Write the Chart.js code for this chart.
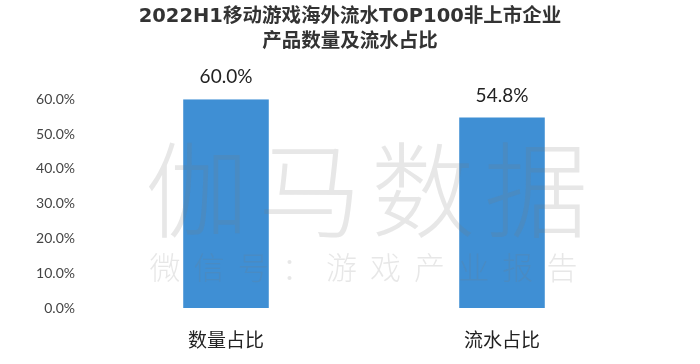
<!DOCTYPE html>
<html>
<head>
<meta charset="utf-8">
<script src="https://cdn.jsdelivr.net/npm/chart.js@4"></script>
<style>
  html, body { margin: 0; padding: 0; background: #fff; }
  #wrap { width: 700px; height: 364px; }
</style>
</head>
<body>
<div id="wrap"><canvas id="chart" width="700" height="364"></canvas></div>
<script>
// Chart data
const titleLines = ['2022H1移动游戏海外流水TOP100非上市企业', '产品数量及流水占比'];
const categories = ['数量占比', '流水占比'];
const shareValues = [60.0, 54.8];
const yTicks = [0, 10, 20, 30, 40, 50, 60];

const FONT = "'Lato', 'Noto Sans CJK SC', sans-serif";
const CJK = "'Noto Sans CJK SC', sans-serif";

// Watermark drawn on top of the bars
const watermark = {
    id: 'watermark',
    afterDatasetsDraw(chart) {
        const ctx = chart.ctx;
        ctx.save();
        ctx.fillStyle = 'rgba(120,120,120,0.18)';
        ctx.textAlign = 'center';
        ctx.textBaseline = 'middle';
        ctx.font = '300 104px ' + CJK;
        '伽马数据'.split('').forEach((ch, i) => {
            ctx.fillText(ch, 197 + i * 113, 190);
        });
        ctx.font = '300 31px ' + CJK;
        '微信号：游戏产业报告'.split('').forEach((ch, i) => {
            ctx.fillText(ch, 165 + i * 44.1, 267);
        });
        ctx.restore();
    }
};

// Value labels above each bar
const valueLabels = {
    id: 'valueLabels',
    afterDatasetsDraw(chart) {
        const ctx = chart.ctx;
        const meta = chart.getDatasetMeta(0);
        ctx.save();
        ctx.fillStyle = '#222';
        ctx.font = '19px ' + FONT;
        ctx.textAlign = 'center';
        ctx.textBaseline = 'middle';
        meta.data.forEach((bar, i) => {
            ctx.fillText(shareValues[i].toFixed(1) + '%', bar.x, bar.y - 22);
        });
        ctx.restore();
    }
};

new Chart(document.getElementById('chart').getContext('2d'), {
    type: 'bar',
    data: {
        labels: categories,
        datasets: [{
            data: shareValues,
            backgroundColor: '#3f8fd4',
            barPercentage: 0.62,
            categoryPercentage: 0.5
        }]
    },
    options: {
        responsive: false,
        animation: false,
        layout: { padding: { top: 4, right: 0, left: 0, bottom: 0 } },
        plugins: {
            legend: { display: false },
            tooltip: { enabled: false },
            title: {
                display: true,
                text: titleLines,
                color: '#333',
                font: { family: "'DejaVu Sans', 'Noto Sans CJK SC', sans-serif", size: 19.5, weight: 'bold', lineHeight: 1.29 },
                padding: { top: 0, bottom: 45 }
            }
        },
        scales: {
            x: {
                grid: { display: false, drawTicks: false },
                border: { display: false },
                ticks: {
                    color: '#222',
                    padding: 20,
                    font: { family: CJK, size: 19 }
                },
                afterFit(scale) { scale.height = 56; }
            },
            y: {
                min: 0,
                max: 60,
                grid: { display: false, drawTicks: false },
                border: { display: false },
                afterBuildTicks(scale) {
                    scale.ticks = yTicks.map(v => ({ value: v }));
                },
                ticks: {
                    color: '#444',
                    padding: 13,
                    font: { family: FONT, size: 14 },
                    callback: v => v.toFixed(1) + '%'
                },
                afterFit(scale) { scale.width = 88; }
            },
            // empty right axis keeps the plot clear of the right edge
            yRight: {
                position: 'right',
                min: 0,
                max: 60,
                grid: { display: false, drawTicks: false },
                border: { display: false },
                ticks: { display: false },
                afterFit(scale) { scale.width = 60; }
            }
        }
    },
    plugins: [watermark, valueLabels]
});
</script>
</body>
</html>
